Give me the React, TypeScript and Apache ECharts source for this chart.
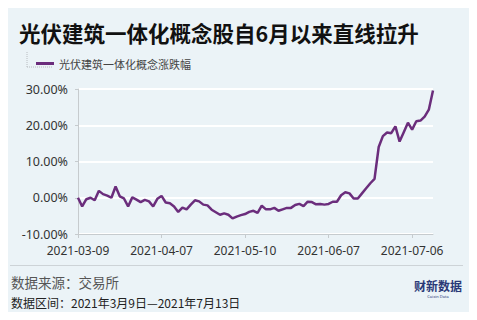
import React, { useEffect, useRef } from "react";
import * as echarts from "echarts";

const dates: string[] = [
  "2021-03-09","2021-03-10","2021-03-11","2021-03-12","2021-03-15","2021-03-16","2021-03-17","2021-03-18","2021-03-19","2021-03-22","2021-03-23","2021-03-24","2021-03-25","2021-03-26","2021-03-29","2021-03-30","2021-03-31",
  "2021-04-01","2021-04-02","2021-04-06","2021-04-07","2021-04-08","2021-04-09","2021-04-12","2021-04-13","2021-04-14","2021-04-15","2021-04-16","2021-04-19","2021-04-20","2021-04-21","2021-04-22","2021-04-23","2021-04-26","2021-04-27","2021-04-28","2021-04-29","2021-04-30",
  "2021-05-06","2021-05-07","2021-05-10","2021-05-11","2021-05-12","2021-05-13","2021-05-14","2021-05-17","2021-05-18","2021-05-19","2021-05-20","2021-05-21","2021-05-24","2021-05-25","2021-05-26","2021-05-27","2021-05-28","2021-05-31",
  "2021-06-01","2021-06-02","2021-06-03","2021-06-04","2021-06-07","2021-06-08","2021-06-09","2021-06-10","2021-06-11","2021-06-15","2021-06-16","2021-06-17","2021-06-18","2021-06-21","2021-06-22","2021-06-23","2021-06-24","2021-06-25","2021-06-28","2021-06-29","2021-06-30",
  "2021-07-01","2021-07-02","2021-07-05","2021-07-06","2021-07-07","2021-07-08","2021-07-09","2021-07-12","2021-07-13",
];

const changePct: number[] = [
  0.0, -2.4, -0.4, 0.0, -0.7, 1.9, 1.0, 0.6, 0.0, 3.1,
  0.4, -0.2, -2.4, 0.1, -0.5, -1.2, -0.6, -1.0, -2.4, -0.3,
  0.5, -1.3, -1.5, -2.4, -3.9, -2.7, -3.2, -1.9, -0.7, -1.0,
  -1.9, -2.1, -3.3, -4.0, -4.7, -4.3, -4.7, -5.7, -5.2, -4.8,
  -4.5, -3.9, -3.6, -4.2, -2.2, -3.2, -3.2, -2.8, -3.6, -3.2,
  -2.8, -2.8, -2.0, -1.7, -2.3, -1.1, -1.2, -1.8, -1.7, -1.9,
  -1.7, -1.1, -1.1, 0.7, 1.5, 1.2, -0.2, -0.2, 1.2, 2.6,
  4.0, 5.2, 14.0, 17.0, 18.0, 17.8, 19.7, 15.5, 18.1, 20.7,
  18.8, 21.1, 21.3, 22.4, 24.3, 29.6,
];

const seriesName = "光伏建筑一体化概念涨跌幅";
const titleText = "光伏建筑一体化概念股自6月以来直线拉升";
const sourceText = "数据来源：交易所";
const rangeText = "数据区间：2021年3月9日—2021年7月13日";
const yMin = -10;
const yMax = 30;
const yStep = 10;

const LINE_COLOR = "#6b2d7c";
const BG = "#ebf3f7";

export default function App() {
  const ref = useRef<HTMLDivElement>(null);
  useEffect(() => {
    if (!ref.current) return;
    const chart = echarts.init(ref.current, undefined, { renderer: "svg" });
    chart.setOption({
      animation: false,
      backgroundColor: BG,
      title: {
        text: titleText,
        left: 14,
        top: 17,
        textStyle: { fontSize: 21.5, fontWeight: "bold", color: "#111", fontFamily: "Noto Sans CJK SC" },
      },
      legend: {
        left: 31,
        top: 53,
        icon: "rect",
        itemWidth: 18,
        itemHeight: 3,
        itemGap: 8,
        textStyle: { fontSize: 11, color: "#444", fontFamily: "Noto Sans CJK SC" },
        data: [seriesName],
      },
      grid: { left: 78, right: 44, top: 89, bottom: 86, containLabel: false },
      xAxis: [
        {
          type: "category",
          data: dates,
          boundaryGap: false,
          axisLine: { show: false },
          axisTick: { show: false },
          splitLine: { show: false },
          axisLabel: {
            interval: 19,
            fontSize: 12,
            color: "#333",
            margin: 10,
            fontFamily: "Noto Sans",
          },
        },
        {
          type: "category",
          data: dates,
          boundaryGap: false,
          position: "bottom",
          axisLine: { show: true, onZero: true, lineStyle: { color: "#c6cbce", width: 1 } },
          axisTick: { show: true, interval: 19, length: 4, lineStyle: { color: "#c6cbce" } },
          axisLabel: { show: false },
          splitLine: { show: false },
        },
      ],
      yAxis: {
        type: "value",
        min: yMin,
        max: yMax,
        interval: yStep,
        axisLine: { show: true, lineStyle: { color: "#c6cbce" } },
        axisTick: { show: true, length: 3, lineStyle: { color: "#c6cbce" } },
        splitLine: { show: true, lineStyle: { color: "#ffffff", width: 2 } },
        axisLabel: {
          formatter: (v: number) => v.toFixed(2) + "%",
          fontSize: 12.5,
          color: "#333",
          margin: 10,
          fontFamily: "Noto Sans",
        },
      },
      series: [
        {
          name: seriesName,
          type: "line",
          data: changePct,
          xAxisIndex: 0,
          showSymbol: false,
          symbol: "none",
          lineStyle: { color: LINE_COLOR, width: 2.5 },
          itemStyle: { color: LINE_COLOR },
          z: 5,
        },
      ],
      graphic: [
        {
          type: "line",
          shape: { x1: 27, y1: 52, x2: 27, y2: 67 },
          style: { stroke: "#b8bcc0", lineWidth: 1, lineDash: [1, 1] },
        },
        {
          type: "line",
          shape: { x1: 27, y1: 67, x2: 53, y2: 67 },
          style: { stroke: "#b8bcc0", lineWidth: 1, lineDash: [1, 1] },
        },
        {
          type: "line",
          shape: { x1: 10, y1: 265.5, x2: 463, y2: 265.5 },
          style: { stroke: "#cdd3d7", lineWidth: 1 },
        },
        {
          type: "text",
          x: 11,
          y: 282,
          style: {
            text: sourceText,
            fontSize: 13.5,
            fill: "#555",
            fontFamily: "Noto Sans CJK SC",
            verticalAlign: "middle",
          },
        },
        {
          type: "text",
          x: 11,
          y: 302,
          style: {
            text: rangeText,
            fontSize: 12,
            fill: "#222",
            fontFamily: "Noto Sans CJK SC",
            verticalAlign: "middle",
          },
        },
        {
          type: "text",
          x: 438,
          y: 285,
          style: {
            text: "财新数据",
            fontSize: 12,
            fontWeight: "bold",
            fill: "#2a3977",
            fontFamily: "Noto Sans CJK SC",
            align: "center",
            verticalAlign: "middle",
          },
        },
        {
          type: "text",
          x: 438,
          y: 296,
          style: {
            text: "Caixin Data",
            fontSize: 4,
            fill: "#2a3977",
            fontFamily: "Noto Sans",
            align: "center",
            verticalAlign: "middle",
          },
        },
      ],
    });
    return () => chart.dispose();
  }, []);
  return <div ref={ref} style={{ width: 477, height: 320, margin: -8 }} />;
}
